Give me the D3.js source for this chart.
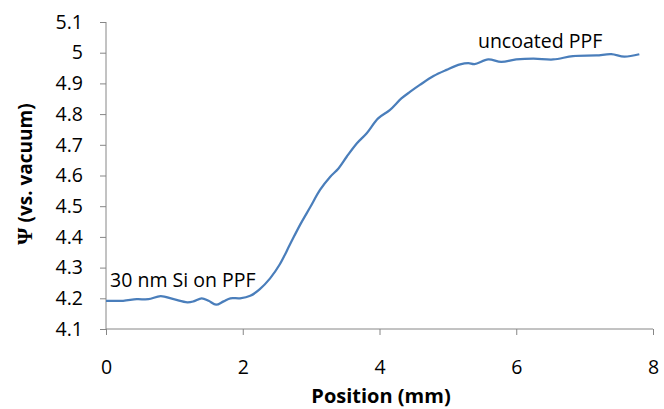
<!DOCTYPE html>
<html>
<head>
<meta charset="utf-8">
<script src="https://cdn.jsdelivr.net/npm/d3@7"></script>
<style>
  html, body { margin: 0; padding: 0; background: #fff; }
  svg { display: block; }
  text { font-family: "Open Sans", sans-serif; fill: #000; }
</style>
</head>
<body>
<svg id="chart" width="664" height="409"></svg>
<script>
// Work function profile across the coated / uncoated boundary
const positionMm = [0, 0.25, 0.45, 0.62, 0.8, 0.99, 1.19, 1.28, 1.4, 1.5, 1.61, 1.72, 1.82, 1.96,
  2.11, 2.25, 2.4, 2.54, 2.69, 2.84, 2.99, 3.13, 3.28, 3.4, 3.52, 3.67, 3.81, 3.98, 4.15, 4.32,
  4.45, 4.59, 4.79, 4.98, 5.18, 5.3, 5.39, 5.59, 5.78, 6.0, 6.25, 6.54, 6.83, 7.17, 7.39, 7.58, 7.8];
const psiValues = [4.192, 4.192, 4.197, 4.197, 4.207, 4.197, 4.187, 4.19, 4.2, 4.192, 4.179, 4.19, 4.2, 4.2,
  4.208, 4.23, 4.265, 4.31, 4.375, 4.44, 4.498, 4.553, 4.596, 4.623, 4.661, 4.705, 4.737, 4.786, 4.813, 4.851,
  4.873, 4.895, 4.924, 4.944, 4.962, 4.966, 4.963, 4.978, 4.97, 4.978, 4.981, 4.978, 4.989, 4.991, 4.995, 4.987, 4.995];
const xTicks = [0, 2, 4, 6, 8];
const yTicks = [4.1, 4.2, 4.3, 4.4, 4.5, 4.6, 4.7, 4.8, 4.9, 5, 5.1];
const annotations = [
  { text: "30 nm Si on PPF", x: 0.06, y: 4.237 },
  { text: "uncoated PPF", x: 5.44, y: 5.014 }
];

const svg = d3.select("#chart");
const x = d3.scaleLinear().domain([0, 8]).range([106, 653]);
const y = d3.scaleLinear().domain([4.1, 5.1]).range([329, 22]);
const axisColor = "#868686";
const labelSize = "19.5px";

// y axis
const gy = svg.append("g").attr("transform", `translate(${x(0)},0)`)
  .call(d3.axisLeft(y).tickValues(yTicks).tickSize(6).tickPadding(17).tickFormat(d => String(+d.toFixed(1))));
// x axis
const gx = svg.append("g").attr("transform", `translate(0,${y(4.1)})`)
  .call(d3.axisBottom(x).tickValues(xTicks).tickSize(6).tickPadding(25).tickFormat(d3.format("d")));

[gx, gy].forEach(g => {
  g.select(".domain").attr("stroke", axisColor).attr("stroke-width", 1);
  g.selectAll(".tick line").attr("stroke", axisColor).attr("stroke-width", 1);
  g.selectAll(".tick text").style("font-family", "'Open Sans', sans-serif").style("font-size", labelSize).attr("fill", "#000");
});
// axis lines without end caps; ticks sit outside the plot
gy.select(".domain").attr("d", `M0,${y(5.1)}V${y(4.1)}`);
gx.select(".domain").attr("d", `M${x(0)},0H${x(8)}`);

// data line
const line = d3.line()
  .x((d, i) => x(positionMm[i]))
  .y(d => y(d))
  .curve(d3.curveCatmullRom.alpha(0.5));
svg.append("path")
  .datum(psiValues)
  .attr("d", line)
  .attr("fill", "none")
  .attr("stroke", "#4a7ebb")
  .attr("stroke-width", 2.25)
  .attr("stroke-linejoin", "round");

// region labels
svg.selectAll("text.note")
  .data(annotations)
  .enter().append("text")
  .attr("class", "note")
  .attr("x", d => x(d.x))
  .attr("y", d => y(d.y))
  .style("font-size", labelSize)
  .text(d => d.text);

// axis titles
svg.append("text")
  .attr("x", 381).attr("y", 403)
  .attr("text-anchor", "middle")
  .style("font-size", "20px").style("font-weight", "bold")
  .text("Position (mm)");

const yt = svg.append("text")
  .attr("transform", "translate(32,174) rotate(-90)")
  .attr("text-anchor", "middle")
  .style("font-size", "19px").style("font-weight", "bold");
yt.append("tspan").style("font-family", "'Liberation Serif', serif").style("font-size", "22px").text("Ψ");
yt.append("tspan").text(" (vs. vacuum)");
</script>
</body>
</html>
